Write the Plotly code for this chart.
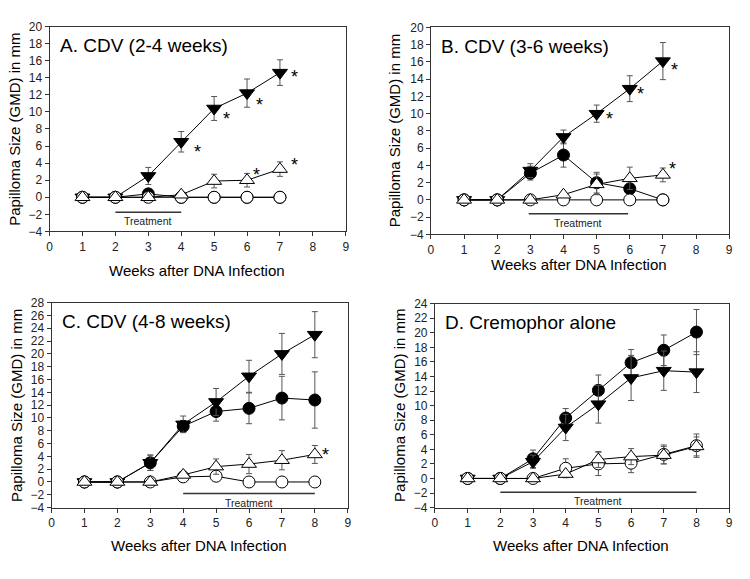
import plotly.graph_objects as go

W, H = 750, 579
FONT = "Liberation Sans, Arial, sans-serif"

weeks7 = [1, 2, 3, 4, 5, 6, 7]
weeks8 = [1, 2, 3, 4, 5, 6, 7, 8]

# Panel A: CDV (2-4 weeks)
a_tri_dn = [0, 0, 2.5, 6.5, 10.4, 12.2, 14.6]
a_tri_dn_err = [0, 0, 1.0, 1.2, 1.4, 1.65, 1.5]
a_dot = [0, 0, 0.4, 0, 0, 0, 0]
a_dot_err = [0, 0, 0, 0, 0, 0, 0]
a_tri_up = [0, 0, 0, 0.3, 1.9, 2.0, 3.3]
a_tri_up_err = [0, 0, 0, 0, 0.8, 0.8, 0.85]
a_ring = [0, 0, 0, 0, 0, 0, 0]
a_ring_err = [0, 0, 0, 0, 0, 0, 0]
a_star_x = [4.5, 5.38, 6.38, 7.43, 6.28, 7.43]
a_star_y = [5.8, 9.6, 11.3, 14.5, 3.1, 4.3]

# Panel B: CDV (3-6 weeks)
b_tri_dn = [0, 0, 3.4, 7.3, 10.0, 12.9, 16.1]
b_tri_dn_err = [0, 0, 0.8, 0.8, 1.0, 1.5, 2.15]
b_dot = [0, 0, 3.1, 5.2, 2.0, 1.3, 0]
b_dot_err = [0, 0, 0.8, 1.4, 1.2, 0, 0]
b_tri_up = [0, 0, 0, 0.6, 1.8, 2.5, 2.9]
b_tri_up_err = [0, 0, 0, 0, 1.2, 1.3, 0.8]
b_ring = [0, 0, 0, 0, 0, 0, 0]
b_ring_err = [0, 0, 0, 0, 0, 0, 0]
b_star_x = [5.39, 6.32, 7.36, 7.29]
b_star_y = [9.9, 12.8, 15.5, 4.1]

# Panel C: CDV (4-8 weeks)
c_tri_dn = [0, 0, 3.0, 9.0, 12.5, 16.5, 20.0, 23.0]
c_tri_dn_err = [0, 0, 1.2, 1.3, 2.1, 2.5, 3.2, 3.6]
c_dot = [0, 0, 3.0, 8.7, 11.0, 11.5, 13.1, 12.8]
c_dot_err = [0, 0, 1.2, 0.9, 1.5, 2.4, 3.4, 4.4]
c_tri_up = [0, 0, 0, 1.1, 2.4, 2.8, 3.4, 4.3]
c_tri_up_err = [0, 0, 0, 0, 1.2, 1.5, 1.5, 1.4]
c_ring = [0, 0, 0, 0.8, 0.9, 0, 0, 0]
c_ring_err = [0, 0, 0, 0, 0, 0, 0, 0]
c_star_x = [8.33]
c_star_y = [4.8]

# Panel D: Cremophor alone
d_tri_dn = [0, 0, 2.3, 7.0, 10.2, 13.8, 14.8, 14.6]
d_tri_dn_err = [0, 0, 0.9, 1.8, 2.6, 3.1, 2.7, 2.8]
d_dot = [0, 0, 2.7, 8.3, 12.1, 15.9, 17.6, 20.1]
d_dot_err = [0, 0, 1.2, 1.3, 2.1, 1.8, 2.1, 3.1]
d_tri_up = [0, 0, 0, 0.6, 2.6, 3.0, 3.2, 4.4]
d_tri_up_err = [0, 0, 0, 0, 1.1, 1.1, 1.2, 1.3]
d_ring = [0, 0, 0, 1.4, 2.0, 2.1, 3.3, 4.5]
d_ring_err = [0, 0, 0, 1.3, 1.6, 1.3, 1.3, 1.6]
d_star_x = []
d_star_y = []

panels = [
    dict(title="A. CDV (2-4 weeks)", x=weeks7, yr=[-4, 20],
         series=[(a_dot, a_dot_err), (a_tri_dn, a_tri_dn_err),
                 (a_ring, a_ring_err), (a_tri_up, a_tri_up_err)],
         stars=(a_star_x, a_star_y), treat=(2, 4, -1.75),
         box=(47, 346, 20, 230), ytitle_x=12, xtitle_y=270),
    dict(title="B. CDV (3-6 weeks)", x=weeks7, yr=[-4, 20],
         series=[(b_dot, b_dot_err), (b_tri_dn, b_tri_dn_err),
                 (b_ring, b_ring_err), (b_tri_up, b_tri_up_err)],
         stars=(b_star_x, b_star_y), treat=(2.95, 5.95, -1.6),
         box=(432, 733, 21, 233), ytitle_x=396, xtitle_y=264),
    dict(title="C. CDV (4-8 weeks)", x=weeks8, yr=[-4, 28],
         series=[(c_dot, c_dot_err), (c_tri_dn, c_tri_dn_err),
                 (c_ring, c_ring_err), (c_tri_up, c_tri_up_err)],
         stars=(c_star_x, c_star_y), treat=(4, 8, -1.8),
         box=(49, 348, 303, 513), ytitle_x=13, xtitle_y=552),
    dict(title="D. Cremophor alone", x=weeks8, yr=[-4, 24],
         series=[(d_dot, d_dot_err), (d_tri_dn, d_tri_dn_err),
                 (d_ring, d_ring_err), (d_tri_up, d_tri_up_err)],
         stars=(d_star_x, d_star_y), treat=(2, 8, -1.9),
         box=(436, 733, 304, 513), ytitle_x=400, xtitle_y=552),
]

# marker styles in draw order: filled circle, filled down-triangle, open circle, open up-triangle
styles = [
    dict(symbol="circle", size=12, color="black", line=dict(color="black", width=1)),
    dict(symbol="triangle-down", size=13, color="black", line=dict(color="black", width=1)),
    dict(symbol="circle", size=12, color="white", line=dict(color="black", width=1)),
    dict(symbol="triangle-up", size=13, color="white", line=dict(color="black", width=1)),
]


def px_x(p):
    return p / W


def px_y(p):
    return 1 - p / H


fig = go.Figure()
annotations = []
shapes = []

for i, p in enumerate(panels):
    n = "" if i == 0 else str(i + 1)
    xa, ya = "x" + n, "y" + n
    l, r, t, b = p["box"]
    for (vals, errs), st in zip(p["series"], styles):
        fig.add_trace(go.Scatter(
            x=p["x"], y=vals, xaxis=xa, yaxis=ya,
            mode="lines+markers",
            line=dict(color="black", width=1),
            marker=st,
            error_y=dict(type="data", array=errs, visible=True,
                         color="#555", thickness=1, width=3),
            showlegend=False, cliponaxis=False,
        ))

    axis_common = dict(showline=True, mirror=True, linecolor="#333", linewidth=1,
                       ticks="outside", ticklen=4, tickcolor="#333",
                       showgrid=False, zeroline=False,
                       tickfont=dict(family=FONT, size=12, color="#222"))
    fig.layout["xaxis" + n] = dict(axis_common, domain=[px_x(l), px_x(r)],
                                   range=[0, 9], dtick=1, anchor=ya)
    fig.layout["yaxis" + n] = dict(axis_common, domain=[px_y(b), px_y(t)],
                                   range=p["yr"], dtick=2, anchor=xa)

    # panel label
    annotations.append(dict(x=0.25, y=p["yr"][1] - 2.2 * (p["yr"][1] + 4) / 24,
                            xref=xa, yref=ya, text=p["title"], showarrow=False,
                            xanchor="left", yanchor="middle",
                            font=dict(family=FONT, size=19, color="black")))
    # asterisks
    for sx, sy in zip(*p["stars"]):
        annotations.append(dict(x=sx, y=sy, xref=xa, yref=ya, text="*",
                                showarrow=False, yshift=-4,
                                xanchor="center", yanchor="middle",
                                font=dict(family=FONT, size=18, color="black")))
    # treatment bar
    t0, t1, ty = p["treat"]
    shapes.append(dict(type="line", xref=xa, yref=ya, x0=t0, x1=t1, y0=ty, y1=ty,
                       line=dict(color="#333", width=1.5)))
    annotations.append(dict(x=(t0 + t1) / 2, y=ty, xref=xa, yref=ya, text="Treatment",
                            showarrow=False, xanchor="center", yanchor="top", yshift=-1,
                            font=dict(family=FONT, size=10.5, color="#222")))
    # axis titles
    annotations.append(dict(x=px_x(p["ytitle_x"]), y=px_y((t + b) / 2), xref="paper",
                            yref="paper", text="Papilloma Size (GMD) in mm",
                            textangle=-90, showarrow=False,
                            xanchor="center", yanchor="middle",
                            font=dict(family=FONT, size=15, color="black")))
    annotations.append(dict(x=px_x((l + r) / 2 - 1), y=px_y(p["xtitle_y"]), xref="paper",
                            yref="paper", text="Weeks after DNA Infection",
                            showarrow=False, xanchor="center", yanchor="middle",
                            font=dict(family=FONT, size=15, color="black")))

fig.update_layout(
    width=W, height=H, autosize=False,
    margin=dict(l=0, r=0, t=0, b=0),
    paper_bgcolor="white", plot_bgcolor="white",
    annotations=annotations, shapes=shapes,
    font=dict(family=FONT),
)

fig.write_html("out.html", config={"displayModeBar": False},
               post_script="document.body.style.margin='0';")
